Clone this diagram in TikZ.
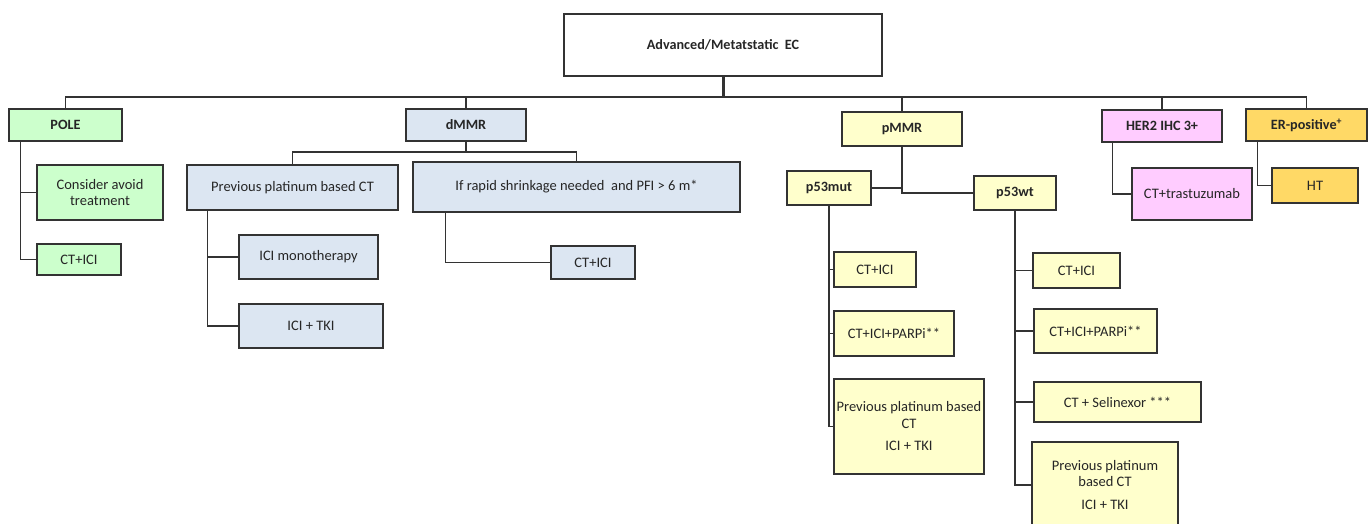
\documentclass[tikz,border=0pt]{standalone}
\usepackage{fontspec}
\setmainfont{Carlito}
\definecolor{polegreen}{HTML}{CCFFCC}
\definecolor{dmmrblue}{HTML}{DCE6F2}
\definecolor{pmmryellow}{HTML}{FFFFCC}
\definecolor{herpink}{HTML}{FFCCFF}
\definecolor{ergold}{HTML}{FFD966}
\begin{document}
\begin{tikzpicture}[x=1pt,y=-1pt,
  box/.style={draw=black!80, line width=1.2pt, align=center, inner sep=1pt, text=black!85, font=\fontsize{14.5}{16.5}\selectfont},
  head/.style={box, font=\fontsize{14.2}{16}\selectfont\bfseries},
  link/.style={draw=black!80, line width=1.2pt}]
\useasboundingbox (0,0) rectangle (1372,524);
\clip (0,0) rectangle (1372,524);
\node[head, minimum width=318pt, minimum height=62pt] (top) at (723,45) {Advanced/Metatstatic\ \ EC};
\node[head, fill=polegreen, minimum width=113pt, minimum height=32pt] (pole) at (65.5,125) {POLE};
\node[box, fill=polegreen, minimum width=126pt, minimum height=55pt] (avoid) at (100,192.5) {Consider avoid\\treatment};
\node[box, fill=polegreen, minimum width=84pt, minimum height=31pt] (polect) at (79,259.5) {CT+ICI};
\node[head, fill=dmmrblue, minimum width=120pt, minimum height=32pt] (dmmr) at (466,125) {dMMR};
\node[box, fill=dmmrblue, minimum width=211pt, minimum height=45pt] (prevct) at (292.5,187.5) {Previous platinum based CT};
\node[box, fill=dmmrblue, minimum width=139pt, minimum height=44pt] (icimono) at (308.5,257) {ICI monotherapy};
\node[box, fill=dmmrblue, minimum width=144pt, minimum height=44pt] (icitki) at (311,326) {ICI + TKI};
\node[box, fill=dmmrblue, minimum width=327pt, minimum height=50pt] (rapid) at (576.5,187) {If rapid shrinkage needed\ \ and PFI > 6 m*};
\node[box, fill=dmmrblue, minimum width=84pt, minimum height=33pt] (rapidct) at (593,262.5) {CT+ICI};
\node[head, fill=pmmryellow, minimum width=120pt, minimum height=34pt] (pmmr) at (902,129) {pMMR};
\node[head, fill=pmmryellow, minimum width=84pt, minimum height=34pt] (mut) at (829,188) {p53mut};
\node[head, fill=pmmryellow, minimum width=82pt, minimum height=34pt] (wt) at (1015,193) {p53wt};
\node[box, fill=pmmryellow, minimum width=82pt, minimum height=35pt] (mutct) at (875,269.5) {CT+ICI};
\node[box, fill=pmmryellow, minimum width=120pt, minimum height=45pt] (mutparp) at (894,333.5) {CT+ICI+PARPi**};
\node[box, fill=pmmryellow, minimum width=150pt, minimum height=95pt] (mutprev) at (909,426.5) {Previous platinum based\\CT\\[6pt]ICI + TKI};
\node[box, fill=pmmryellow, minimum width=87pt, minimum height=35pt] (wtct) at (1076.5,270.5) {CT+ICI};
\node[box, fill=pmmryellow, minimum width=123pt, minimum height=44pt] (wtparp) at (1095.5,331) {CT+ICI+PARPi**};
\node[box, fill=pmmryellow, minimum width=167pt, minimum height=40pt] (wtsel) at (1117.5,402) {CT + Selinexor ***};
\node[box, fill=pmmryellow, minimum width=146pt, minimum height=86pt] (wtprev) at (1105,485) {Previous platinum\\based CT\\[6pt]ICI + TKI};
\node[head, fill=herpink, minimum width=120pt, minimum height=32pt] (her2) at (1162,126) {HER2 IHC 3+};
\node[box, fill=herpink, minimum width=120pt, minimum height=52pt] (trast) at (1192,194) {CT+trastuzumab};
\node[head, fill=ergold, minimum width=121pt, minimum height=32pt] (er) at (1306.5,125) {ER-positive\textsuperscript{+}};
\node[box, fill=ergold, minimum width=86pt, minimum height=35pt] (ht) at (1315,185.5) {HT};
\coordinate (bus) at (723,97);
\coordinate (dsplit) at (466,152);
\draw[link, line width=3pt] (top.south) -- (bus);
\foreach \n in {pole,dmmr,pmmr,her2,er} \draw[link] (bus) -| (\n.north);
\draw[link, line width=2.5pt] (dmmr.south) -- (dsplit);
\draw[link] (dsplit) -| (prevct.north);
\draw[link] (dsplit) -| (rapid.north);
\draw[link] (pole.south west) ++(12,0) |- (avoid.west);
\draw[link] (pole.south west) ++(12,0) |- (polect.west);
\draw[link] (prevct.south west) ++(21,0) |- (icimono.west);
\draw[link] (prevct.south west) ++(21,0) |- (icitki.west);
\draw[link] (rapid.south west) ++(33,0) |- (rapidct.west);
\draw[link] (pmmr.south) |- (mut.east);
\draw[link] (pmmr.south) |- (wt.west);
\foreach \n in {mutct,mutparp,mutprev} \draw[link] (mut.south) |- (\n.west);
\foreach \n in {wtct,wtparp,wtsel,wtprev} \draw[link] (wt.south) |- (\n.west);
\draw[link] (her2.south west) ++(11,0) |- (trast.west);
\draw[link] (er.south west) ++(12,0) |- (ht.west);
\end{tikzpicture}
\end{document}
